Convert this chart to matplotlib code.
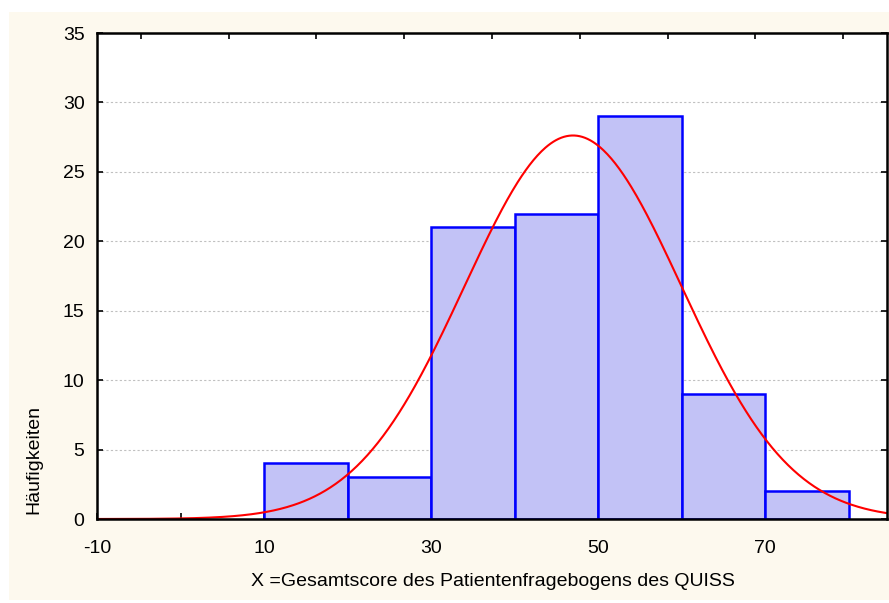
import numpy as np
import matplotlib
matplotlib.use("Agg")
import matplotlib.pyplot as plt
from matplotlib.patches import Rectangle

plt.rcParams['font.family'] = ['Liberation Sans', 'DejaVu Sans']
plt.rcParams['axes.unicode_minus'] = False

bin_edges = [10, 20, 30, 40, 50, 60, 70, 80]
counts = [4, 3, 21, 22, 29, 9, 2]
fit_mean = 47.0
fit_sd = 13.0
x_ticks = [-10, 10, 30, 50, 70]
x_minor = [0, 20, 40, 60, 80]
y_ticks = [0, 5, 10, 15, 20, 25, 30, 35]
xlabel = "X =Gesamtscore des Patientenfragebogens des QUISS"
ylabel = "Häufigkeiten"

W, H = 889, 603
fig = plt.figure(figsize=(W / 100, H / 100), dpi=100)
fig.patch.set_facecolor('white')
bg = Rectangle((9 / W, 3 / H), (W - 9) / W, (600 - 12) / H, transform=fig.transFigure,
               facecolor='#fdf9ee', edgecolor='none', zorder=-10)
fig.patches.append(bg)

ax = fig.add_axes([97 / W, (H - 519) / H, 790 / W, 486 / H])
ax.set_facecolor('white')

N = sum(counts)
bw = bin_edges[1] - bin_edges[0]
lefts = bin_edges[:-1]
ax.bar(lefts, counts, width=bw, align='edge', facecolor='#c2c2f6', edgecolor='#0000ff',
       linewidth=1.8, zorder=2)

xs = np.linspace(-10, 84.6, 600)
ys = N * bw / (fit_sd * np.sqrt(2 * np.pi)) * np.exp(-0.5 * ((xs - fit_mean) / fit_sd) ** 2)
ax.plot(xs, ys, color='#ff0000', lw=1.5, zorder=3)

ax.set_xlim(-10, 84.6)
ax.set_ylim(0, 35)
ax.set_xticks(x_ticks)
ax.set_xticks(x_minor, minor=True)
ax.set_yticks(y_ticks)
ax.tick_params(axis='both', which='both', direction='in', length=4, width=1.2,
               labelsize=14, top=False, right=True, colors='black')
ax.tick_params(axis='x', pad=15)
ax.tick_params(axis='y', pad=9)
for s in ax.spines.values():
    s.set_linewidth(1.8)
    s.set_zorder(5)

for yv in y_ticks[1:-1]:
    ax.axhline(yv, color='#c0c0c0', lw=0.8, ls=(0, (2, 2)), zorder=1)

top = ax.twiny()
top.set_xlim(0, 9)
top.set_xticks([i + 0.5 for i in range(9)])
top.set_xticklabels([])
top.tick_params(axis='x', direction='in', length=4, width=1.2)
for s in top.spines.values():
    s.set_visible(False)

fig.text(493 / W, 1 - 582 / H, xlabel, ha='center', va='center', fontsize=14)
fig.text(34 / W, 1 - 460 / H, ylabel, ha='center', va='center', rotation=90, fontsize=14)

fig.savefig('out.png', dpi=100, facecolor=fig.get_facecolor())
